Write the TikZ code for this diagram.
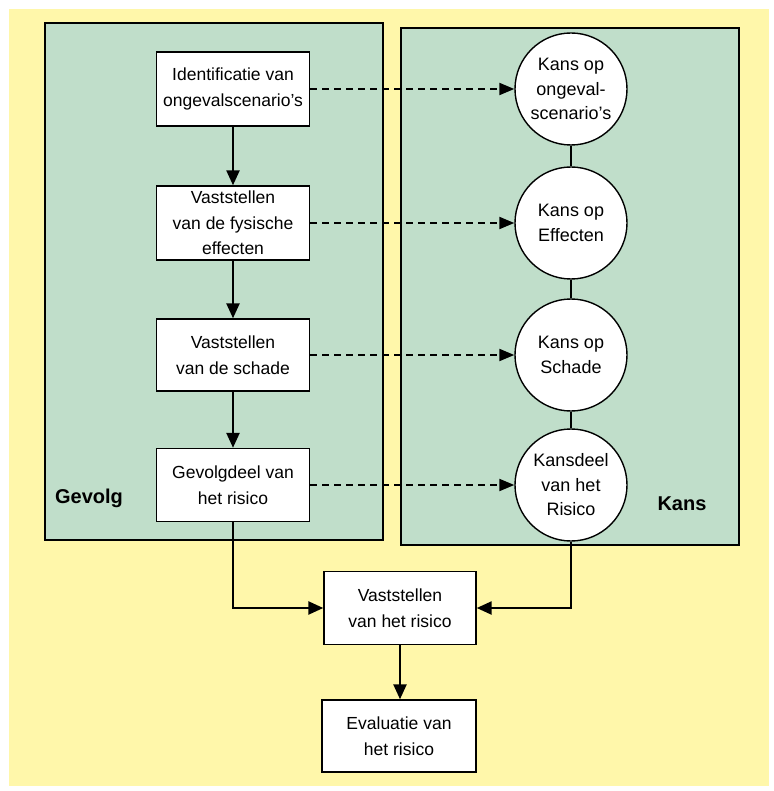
\documentclass[tikz,border=0pt]{standalone}
\usepackage{fontspec}
\setmainfont{Liberation Sans}
\usetikzlibrary{arrows.meta}

\definecolor{paper}{RGB}{255,247,170}
\definecolor{panelgreen}{RGB}{192,222,202}

\tikzset{
  panel/.style={draw=black, line width=2.4pt, fill=panelgreen},
  stepbox/.style={draw=black, line width=1.4pt, fill=white, rectangle,
    minimum width=153pt, minimum height=74pt, align=center, inner sep=2pt,
    font=\fontsize{17.5}{25.5}\selectfont},
  chance/.style={draw=black, line width=1.4pt, fill=white, circle,
    minimum size=112pt, align=center, inner sep=0pt,
    font=\fontsize{18}{24.5}\selectfont},
  flow/.style={draw=black, line width=2.4pt,
    -{Triangle[length=15pt,width=13pt]}},
  link/.style={draw=black, line width=2pt, dash pattern=on 7pt off 5pt,
    -{Triangle[length=15pt,width=12pt]}},
  stem/.style={draw=black, line width=2pt},
  paneltitle/.style={font=\fontsize{20}{24}\selectfont\bfseries}
}

\begin{document}
\begin{tikzpicture}[x=1pt, y=-1pt]
  % page and yellow sheet
  \useasboundingbox (0,0) rectangle (773,791);
  \fill[white] (0,0) rectangle (773,791);
  \fill[paper] (9,9) rectangle (769,786);

  % the two panels
  \draw[panel] (45,23) rectangle (383,540);
  \draw[panel] (401,28) rectangle (739,545);

  % consequence chain
  \node[stepbox] (ident) at (233,89) {Identificatie van\\ongevalscenario's};
  \node[stepbox] (fysisch) at (233,223) {Vaststellen\\van de fysische\\effecten};
  \node[stepbox, minimum height=72pt] (schade) at (233,355) {Vaststellen\\van de schade};
  \node[stepbox, minimum height=73pt] (gevolg) at (233,485) {Gevolgdeel van\\het risico};

  % probability chain
  \node[chance] (c1) at (571,89) {Kans op\\ongeval-\\scenario's};
  \node[chance] (c2) at (571,223) {Kans op\\Effecten};
  \node[chance] (c3) at (571,355) {Kans op\\Schade};
  \node[chance] (c4) at (571,485) {Kansdeel\\van het\\Risico};

  % panel titles
  \node[paneltitle] (tgevolg) at (89,498) {Gevolg};
  \node[paneltitle] (tkans) at (682,504) {Kans};

  % combined result
  \node[stepbox, minimum width=152pt, minimum height=73pt] (risico) at (400,608) {Vaststellen\\van het risico};
  \node[stepbox, minimum width=154pt, minimum height=72pt] (evaluatie) at (399,736) {Evaluatie van\\het risico};

  % connectors
  \draw[flow] (ident) -- (fysisch);
  \draw[flow] (fysisch) -- (schade);
  \draw[flow] (schade) -- (gevolg);

  \draw[stem] (c1) -- (c2);
  \draw[stem] (c2) -- (c3);
  \draw[stem] (c3) -- (c4);

  \draw[link] (ident) -- (c1);
  \draw[link] (fysisch) -- (c2);
  \draw[link] (schade) -- (c3);
  \draw[link] (gevolg) -- (c4);

  \draw[flow] (gevolg.south) |- (risico.west);
  \draw[flow] (c4.south) |- (risico.east);
  \draw[flow] (risico.south) -- (risico.south |- evaluatie.north);
\end{tikzpicture}
\end{document}
